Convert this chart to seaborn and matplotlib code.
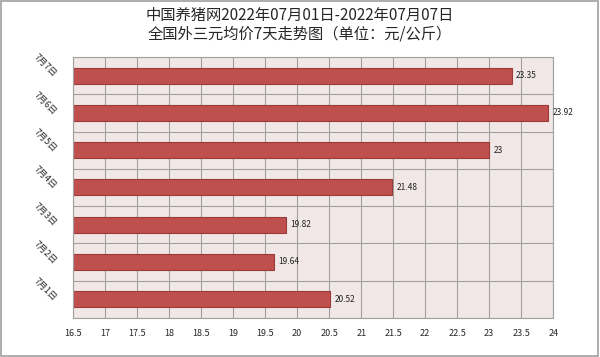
import matplotlib
matplotlib.use("Agg")
import pandas as pd
import seaborn as sns
import matplotlib.pyplot as plt

# data
days = ['7月1日', '7月2日', '7月3日', '7月4日', '7月5日', '7月6日', '7月7日']
prices = [20.52, 19.64, 19.82, 21.48, 23, 23.92, 23.35]
xticks = [16.5, 17, 17.5, 18, 18.5, 19, 19.5, 20, 20.5, 21, 21.5, 22, 22.5, 23, 23.5, 24]

df = pd.DataFrame({'day': days, 'price': prices})
order = days[::-1]

sns.set_style('white')
plt.rcParams['font.family'] = ['Noto Sans CJK SC', 'DejaVu Sans']

fig = plt.figure(figsize=(6, 3.57), dpi=100)
ax = fig.add_axes([0.122, 0.11, 0.800, 0.730])
ax.set_facecolor('#F2E7E7')

sns.barplot(x='price', y='day', data=df, order=order, orient='h',
            color='#C0504D', edgecolor='#9B3B39', linewidth=0.8,
            width=0.43, saturation=1, ax=ax)

ax.set_xlim(16.5, 24)
ax.set_xticks(xticks)
ax.set_xticklabels([f'{t:g}' for t in xticks], fontsize=6.5)
ax.set_yticks(range(len(order)))
ax.set_yticklabels(order, rotation=-45, fontsize=6.5, ha='right', va='center',
                   rotation_mode='anchor')
ax.tick_params(axis='x', length=0, pad=8)
ax.tick_params(axis='y', length=0, pad=13)
ax.set_xlabel('')
ax.set_ylabel('')

# grid: vertical lines at ticks, horizontal lines at category boundaries
for t in xticks:
    ax.axvline(t, color='#A0A0A0', lw=0.8, zorder=0)
for b in range(len(order) + 1):
    ax.axhline(b - 0.5, color='#A0A0A0', lw=0.8, zorder=0)
ax.set_ylim(len(order) - 0.5, -0.5)
for s in ax.spines.values():
    s.set_color('#A0A0A0')
    s.set_linewidth(0.8)

for i, d in enumerate(order):
    v = prices[days.index(d)]
    ax.text(v + 0.07, i, f'{v:g}', fontsize=6, va='center', ha='left', color='#222222')

fig.text(0.5, 0.958, '中国养猪网2022年07月01日-2022年07月07日', ha='center', va='center',
         fontsize=11)
fig.text(0.5, 0.905, '全国外三元均价7天走势图（单位：元/公斤）', ha='center', va='center',
         fontsize=11)

# outer frame
fig.patches.append(plt.Rectangle((0.002, 0.003), 0.995, 0.994, transform=fig.transFigure,
                                 fill=False, edgecolor='#A0A0A0', lw=1.2))

fig.savefig('out.png', dpi=100)
